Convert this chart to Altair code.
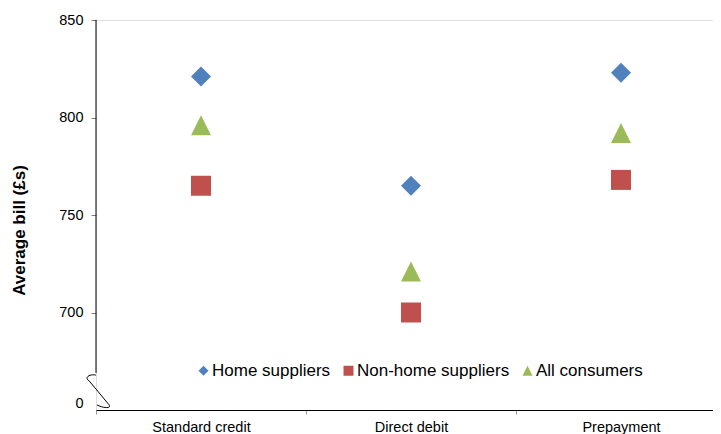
import altair as alt
import pandas as pd

categories = ["Standard credit", "Direct debit", "Prepayment"]
series = ["Home suppliers", "Non-home suppliers", "All consumers"]
home = [821, 765, 823]
nonhome = [765, 700, 768]
allc = [796, 721, 792]
colors = ["#4F81BD", "#C0504D", "#9BBB59"]
shapes = ["diamond", "square", "M0,-1L1,1L-1,1Z"]
y_ticks = [650, 700, 750, 800, 850]

rows = []
for name, vals in zip(series, [home, nonhome, allc]):
    for c, v in zip(categories, vals):
        rows.append({"category": c, "series": name, "bill": v})
df = pd.DataFrame(rows)

FONT = "Liberation Sans"

points = alt.Chart(df).mark_point(filled=True, opacity=1, size=400).encode(
    x=alt.X("category:N", sort=categories, title=None,
            scale=alt.Scale(range=[0, 630], paddingInner=0, paddingOuter=0),
            axis=alt.Axis(labelAngle=0, labelFontSize=14.5, labelColor="black",
                          labelFont=FONT, domainColor="black", domainWidth=1,
                          tickColor="#999999", tickSize=4, tickBand="extent",
                          labelPadding=6, grid=False)),
    y=alt.Y("bill:Q", title="Average bill (£s)",
            scale=alt.Scale(domain=[650, 850], nice=False, zero=False),
            axis=alt.Axis(values=y_ticks, grid=False, domain=False,
                          labelExpr="datum.value == 650 ? '0' : datum.label",
                          labelFontSize=14.5, labelFont=FONT, labelColor="black",
                          tickColor="#808080", tickSize=5, labelPadding=8,
                          tickOpacity={"condition": {"test": "datum.value == 650", "value": 0}, "value": 1},
                          labelOffset={"condition": {"test": "datum.value == 650", "value": -7}, "value": 0},
                          titleFont=FONT, titleFontSize=17, titleFontWeight="bold",
                          titleColor="black", titleX=-77, titleY=210,
                          titleAngle=-90, titleAlign="center", titleBaseline="middle")),
    color=alt.Color("series:N", scale=alt.Scale(domain=series, range=colors),
                    legend=alt.Legend(title=None, orient="none", legendX=99, legendY=342,
                                      direction="horizontal", labelFont=FONT,
                                      labelFontSize=17, labelColor="black",
                                      symbolSize=100, symbolStrokeWidth=0,
                                      labelOffset=0, columnPadding=9)),
    shape=alt.Shape("series:N", scale=alt.Scale(domain=series, range=shapes)),
)

one = pd.DataFrame({"a": [0]})
yaxis_line = alt.Chart(one).mark_rule(color="black", strokeWidth=1).encode(
    x=alt.value(0), y=alt.datum(850), y2=alt.datum(669)
)
squiggle = alt.Chart(one).mark_point(
    shape="M-0.17,-0.94C-0.5,-1.02,-0.85,-0.8,-0.55,-0.62L0.55,0.7C0.72,0.92,0.3,0.92,-0.11,0.72",
    filled=False, stroke="black", strokeWidth=1, size=1296, opacity=1
).encode(x=alt.value(3), y=alt.value(372))

chart = alt.layer(yaxis_line, squiggle, points).properties(
    width=617, height=390,
    padding={"left": 88, "top": 12, "right": 0, "bottom": 24},
    autosize=alt.AutoSizeParams(type="none"),
).configure_view(stroke=None).configure(background="white")

chart.save("out.html", embed_options={"renderer": "svg", "actions": False})
